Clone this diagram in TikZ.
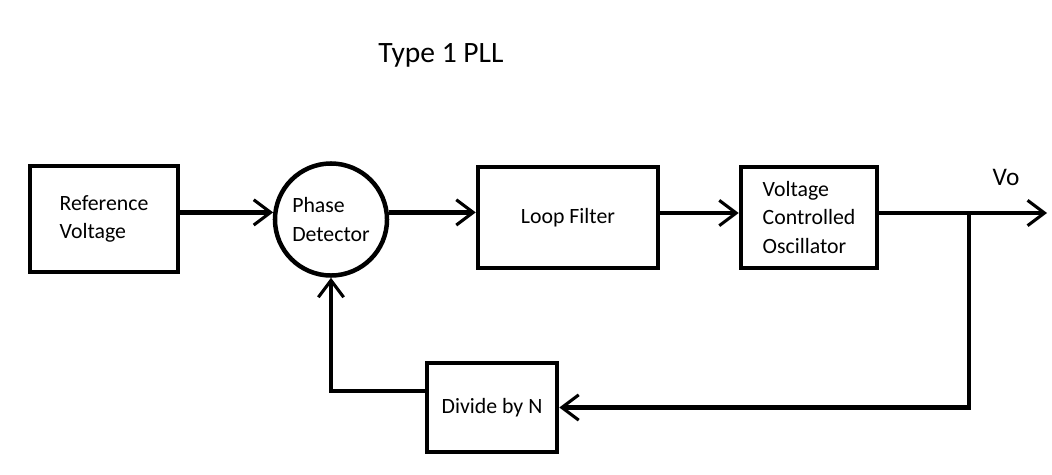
\documentclass[tikz,border=0pt]{standalone}
\usepackage{fontspec}
\setmainfont{Carlito}
\usetikzlibrary{arrows.meta}

\begin{document}
\begin{tikzpicture}[x=0.025cm, y=-0.025cm,
    block/.style={draw, line width=3.2pt, align=left, inner sep=0pt,
      font=\fontsize{15.5}{20}\selectfont},
    wire/.style={line width=3pt},
    conn/.style={wire, -{Straight Barb[length=12pt,width=18pt,line width=2.2pt]}}]

        \useasboundingbox (0,0) rectangle (1052,474);

        %Title
        \node (title) at (441,55) {\fontsize{21}{24}\selectfont Type 1 PLL};

        %Blocks
        \node [block, minimum width=3.7cm, minimum height=2.65cm] (ref) at (104,219) {Reference\\Voltage};
        \node [block, circle, minimum size=2.8cm] (pd) at (331,219.5) {Phase\\Detector};
        \node [block, minimum width=4.5cm, minimum height=2.525cm] (lf) at (568,217.5) {Loop Filter};
        \node [block, minimum width=3.4cm, minimum height=2.525cm] (vco) at (809,217.5) {Voltage\\Controlled\\Oscillator};
        \node [block, minimum width=3.25cm, minimum height=2.225cm] (div) at (492,407.5) {Divide by N};

        %Output
        \coordinate (tap) at (969,213);
        \coordinate (out) at (1047,213);
        \node (vo) at (1006,177) {\fontsize{18}{20}\selectfont Vo};

        %Forward path
        \draw [conn] (ref.east |- pd.173) -- (pd.173);
        \draw [conn] (pd.7) -- (pd.7 -| lf.west);
        \draw [conn] (lf.east |- tap) -- (vco.west |- tap);
        \draw [wire] (vco.east |- tap) -- (tap);
        \draw [conn] (tap) -- (out);

        %Feedback path
        \draw [conn] (tap) |- (div.east);
        \draw [conn] (div.166) -| (pd.south);

\end{tikzpicture}
\end{document}
